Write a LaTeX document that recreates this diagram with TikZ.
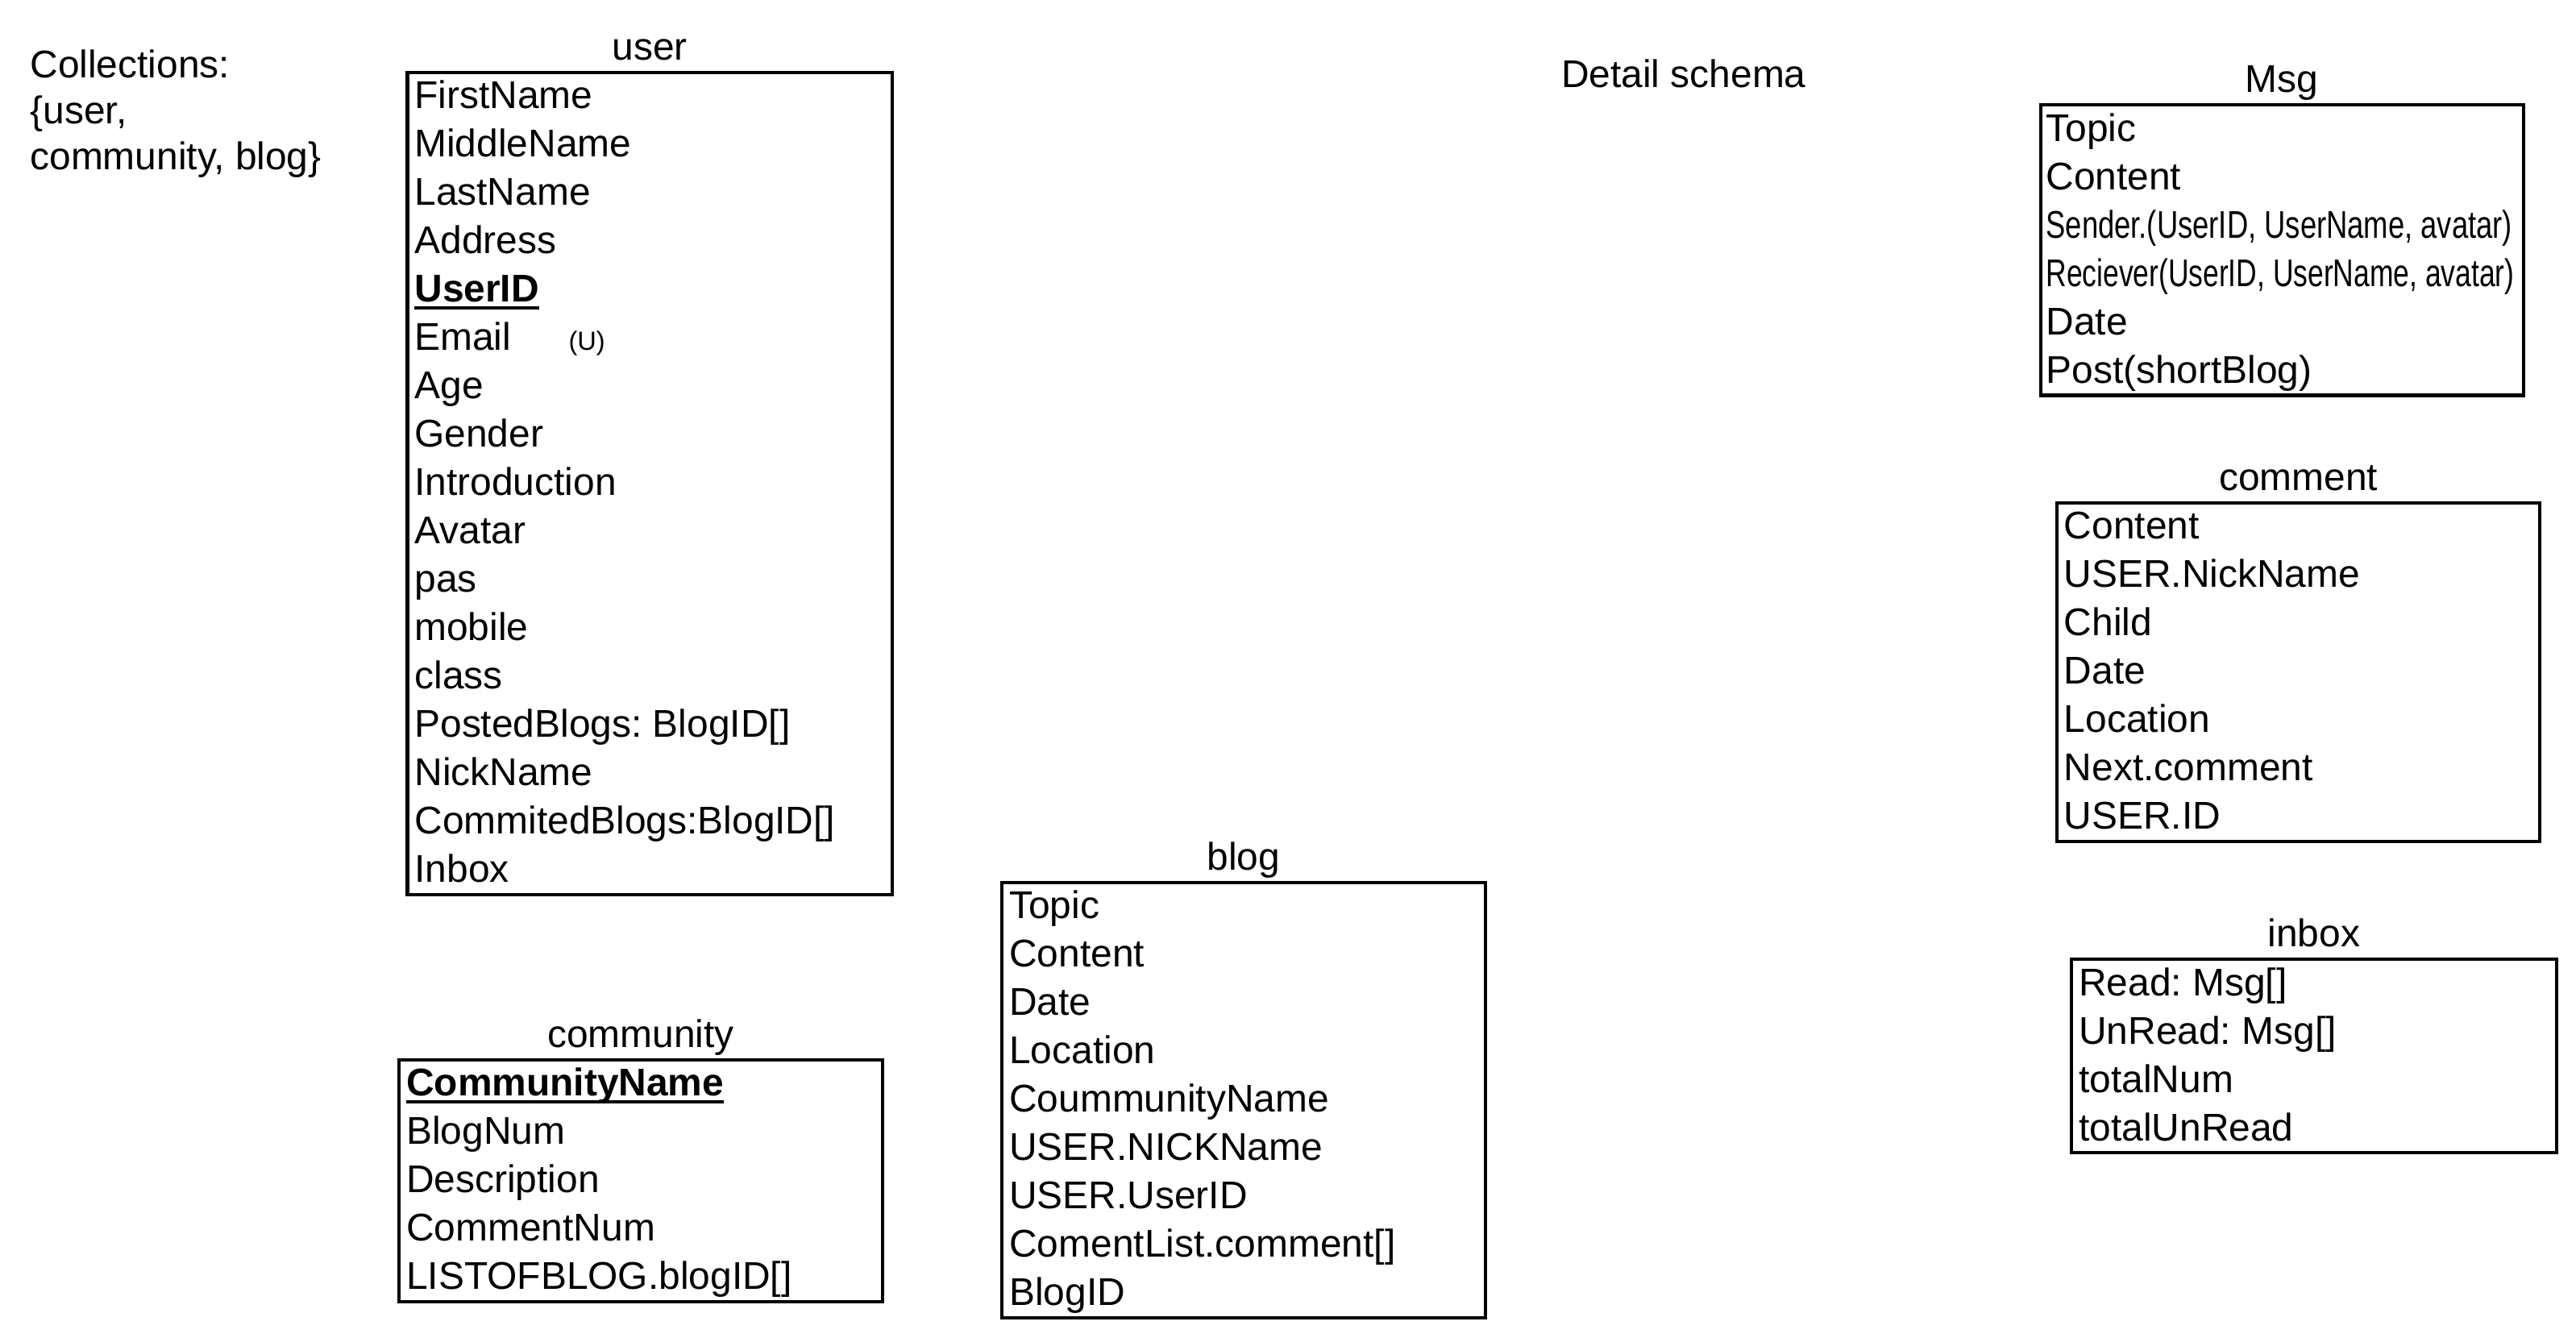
\documentclass[tikz,border=0pt]{standalone}
\usepackage{fontspec}
\setmainfont{Liberation Sans}
\usetikzlibrary{positioning}
\newcommand{\keyul}[1]{\setbox0\hbox{\textbf{#1}}\rlap{\rule[-2.2pt]{\wd0}{0.9pt}}\box0}

\begin{document}
\begin{tikzpicture}[
  x=1pt, y=-1pt,
  every node/.style={font=\fontsize{11.75}{14}\selectfont\frenchspacing},
  ent/.style={draw, line width=1pt, anchor=north west, minimum width=147pt, inner sep=0pt},
  fld/.style={anchor=base west, inner sep=0pt},
  ttl/.style={anchor=base, inner sep=0pt},
  note/.style={anchor=base west, inner sep=0pt}
]
\useasboundingbox (0,0) rectangle (784,407);

% notes
\node[note] (coll-1) at (9,23.7) {Collections:};
\node[note] (coll-2) at (9,37.7) {\{user,};
\node[note] (coll-3) at (9,51.7) {community, blog\}};
\node[note] (detail) at (475,26.7) {Detail schema};

% user
\node[ent, minimum height=250.24pt, minimum width=147.5pt] (user) at (123.5,21.5) {};
\node[above=3.3pt of user, ttl] (user-title) {user};
\foreach \f [count=\i] in {FirstName, MiddleName, LastName, Address,
    {\keyul{UserID}},
    {Email\hspace{17.5pt}{\fontsize{8}{8}\selectfont(U)}},
    Age, Gender, Introduction, Avatar, pas, mobile, class,
    PostedBlogs: BlogID[], NickName, CommitedBlogs:BlogID[], Inbox}
  \node[fld] (user-\i) at (126,{21.5+(\i-0.5)*14.72+4.2}) {\f};

% community
\node[ent, minimum height=73.6pt] (community) at (121,322) {};
\node[above=3.3pt of community, ttl] (community-title) {community};
\foreach \f [count=\i] in {{\keyul{CommunityName}}, BlogNum,
    Description, CommentNum, LISTOFBLOG.blogID[]}
  \node[fld] (community-\i) at (123.5,{322+(\i-0.5)*14.72+4.2}) {\f};

% blog
\node[ent, minimum height=132.48pt] (blog) at (304.5,268) {};
\node[above=3.3pt of blog, ttl] (blog-title) {blog};
\foreach \f [count=\i] in {Topic, Content, Date, Location, CoummunityName,
    USER.NICKName, USER.UserID, ComentList.comment[], BlogID}
  \node[fld] (blog-\i) at (307,{268+(\i-0.5)*14.72+4.2}) {\f};

% Msg
\node[ent, minimum height=88.32pt] (msg) at (620.5,31.5) {};
\node[above=3.3pt of msg, ttl] (msg-title) {Msg};
\foreach \f [count=\i] in {Topic, Content,
    {\scalebox{0.76}[1]{Sender.(UserID, UserName, avatar)}},
    {\scalebox{0.74}[1]{Reciever(UserID, UserName, avatar)}},
    Date, Post(shortBlog)}
  \node[fld] (msg-\i) at (622.5,{31.5+(\i-0.5)*14.72+4.2}) {\f};

% comment
\node[ent, minimum height=103.04pt] (comment) at (625.5,152.5) {};
\node[above=3.3pt of comment, ttl] (comment-title) {comment};
\foreach \f [count=\i] in {Content, USER.NickName, Child, Date, Location,
    Next.comment, USER.ID}
  \node[fld] (comment-\i) at (628,{152.5+(\i-0.5)*14.72+4.2}) {\f};

% inbox
\node[ent, minimum height=58.88pt, minimum width=147.5pt] (inbox) at (630,291.5) {};
\node[above=3.3pt of inbox, ttl] (inbox-title) {inbox};
\foreach \f [count=\i] in {Read: Msg[], UnRead: Msg[], totalNum, totalUnRead}
  \node[fld] (inbox-\i) at (632.5,{291.5+(\i-0.5)*14.72+4.2}) {\f};
\end{tikzpicture}
\end{document}
